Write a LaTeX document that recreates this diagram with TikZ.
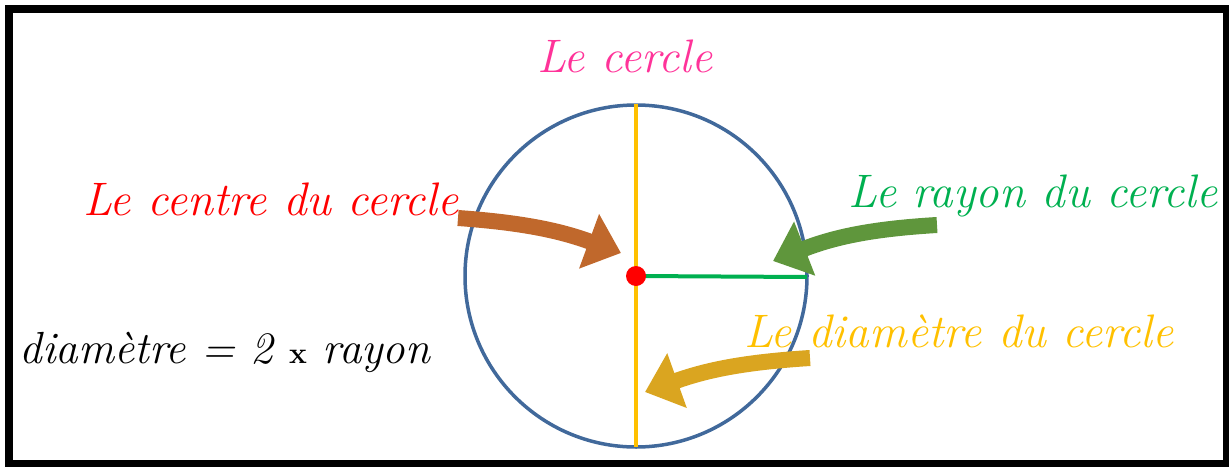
\documentclass[tikz,border=0pt]{standalone}
\usepackage{tikz}
\usetikzlibrary{arrows.meta, positioning}
\definecolor{titlepink}{RGB}{255,51,153}
\definecolor{centrered}{RGB}{255,0,0}
\definecolor{rayongreen}{RGB}{0,176,80}
\definecolor{diamgold}{RGB}{255,192,0}
\definecolor{circleblue}{RGB}{65,105,155}
\definecolor{brushbrown}{RGB}{192,104,44}
\definecolor{brushgreen}{RGB}{95,150,60}
\definecolor{brushgold}{RGB}{218,165,32}

\begin{document}
\begin{tikzpicture}[
  x=1pt, y=-1pt,
  lbl/.style={anchor=base, inner sep=0pt, font=\fontsize{47}{56}\selectfont\itshape},
  brush/.style={line width=16pt, -{Triangle[length=34pt, width=56pt]}},
  stroke/.style={line width=4pt}
]
\useasboundingbox (0,0) rectangle (1229,466);

% frame
\draw[line width=7.5pt] (9,9) rectangle (1226.5,463.5);

% labels
\node[lbl, text=titlepink] (title) at (625,72) {Le cercle};
\node[lbl, text=centrered] (centrelbl) at (271,215) {Le centre du cercle};
\node[lbl, text=rayongreen] (rayonlbl) at (1033,207) {Le rayon du cercle};
\node[lbl, text=diamgold] (diamlbl) at (959,347) {Le diamètre du cercle};
\node[lbl, font=\fontsize{45}{54}\selectfont\itshape] (formula) at (225,363) {diamètre = 2 {\upshape\bfseries\fontsize{30}{36}\selectfont x} rayon};

% circle, diameter and radius
\coordinate (O) at (636,276);
\coordinate (dtop) at (636,104);
\coordinate (dbot) at (636,447);
\coordinate (rend) at (807,277);
\draw[circleblue, line width=3.5pt] (O) circle[radius=171];
\draw[stroke, diamgold] (dtop) -- (dbot);
\draw[stroke, rayongreen] (O) -- (rend);
\fill[centrered] (O) circle[radius=10];

% brush arrows
\coordinate (ctail) at (458,218);
\coordinate (ctip) at (621,253);
\coordinate (rtail) at (937,225);
\coordinate (rtip) at (773,261);
\coordinate (dtail) at (810,358);
\coordinate (dtip) at (645,392);
\draw[brush, brushbrown] (ctail) to[bend left=8] (ctip);
\draw[brush, brushgreen] (rtail) to[bend right=9] (rtip);
\draw[brush, brushgold] (dtail) to[bend right=8] (dtip);

\end{tikzpicture}
\end{document}
